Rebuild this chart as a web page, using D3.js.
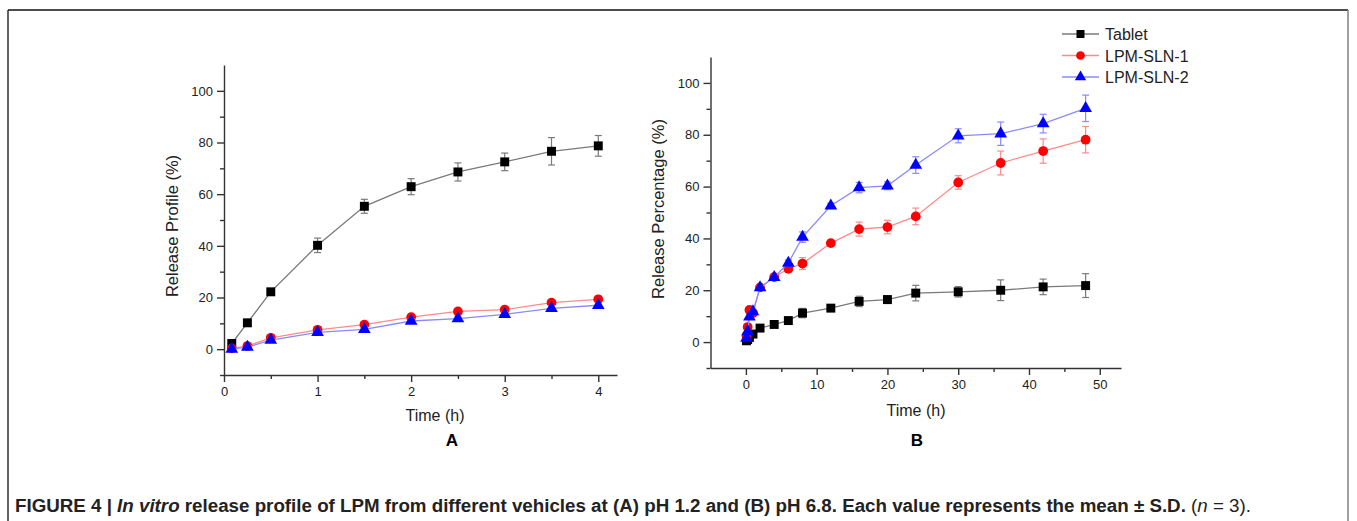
<!DOCTYPE html>
<html lang="en">
<head>
<meta charset="utf-8">
<title>Figure 4 - in vitro release</title>
<script src="https://d3js.org/d3.v7.min.js"></script>
<style>
  body { margin: 0; background: #fff; }
  svg { display: block; font-family: "Liberation Sans", Arial, sans-serif; }
  .axis path, .axis line { stroke: #333; stroke-width: 1.4; }
  .axis text { font-size: 13px; fill: #222; }
</style>
</head>
<body>
<svg id="fig" width="1357" height="521"></svg>
<script>
// ---- data ----
// panel A: pH 1.2
var timeA = [0.083, 0.25, 0.5, 1, 1.5, 2, 2.5, 3, 3.5, 4];
var tabletA = [2.2, 10.2, 22.2, 40.2, 55.3, 62.9, 68.6, 72.5, 76.6, 78.7];
var tabletAErr = [1.0, 0.8, 1.2, 2.8, 2.7, 3.1, 3.5, 3.4, 5.3, 4.0];
var sln1A = [0.3, 1.2, 4.4, 7.5, 9.5, 12.4, 14.6, 15.3, 18.0, 19.3];
var sln1AErr = [0.5, 0.6, 0.8, 0.8, 0.8, 0.9, 0.9, 0.9, 1.0, 1.0];
var sln2A = [0.0, 0.8, 3.5, 6.5, 7.7, 10.9, 11.8, 13.5, 15.8, 17.0];
var sln2AErr = [0.5, 0.6, 0.8, 0.8, 0.8, 0.9, 0.9, 0.9, 1.0, 1.0];

// panel B: pH 6.8
var timeB = [0.083, 0.25, 0.5, 1, 2, 4, 6, 8, 12, 16, 20, 24, 30, 36, 42, 48];
var tabletB = [0.5, 1.0, 1.8, 3.1, 5.4, 6.8, 8.3, 11.2, 13.1, 15.7, 16.4, 18.9, 19.4, 20.0, 21.3, 21.8];
var tabletBErr = [0.3, 0.4, 0.5, 0.6, 0.7, 0.8, 1.0, 1.8, 1.0, 2.0, 1.5, 3.0, 2.0, 4.0, 3.0, 4.6];
var sln1B = [2.4, 5.8, 12.4, 11.2, 21.1, 25.1, 28.3, 30.3, 38.2, 43.6, 44.4, 48.5, 61.6, 69.1, 73.7, 78.1];
var sln1BErr = [0.5, 0.8, 0.8, 0.8, 0.9, 1.0, 1.2, 2.3, 1.0, 2.7, 2.6, 3.2, 2.6, 4.6, 4.7, 5.1];
var sln2B = [1.5, 4.1, 9.7, 11.8, 21.0, 25.0, 30.5, 40.5, 52.6, 59.6, 60.3, 68.3, 79.6, 80.4, 84.3, 90.2];
var sln2BErr = [0.5, 0.6, 0.8, 0.8, 0.9, 1.0, 1.2, 2.0, 1.0, 2.0, 1.5, 3.2, 2.7, 4.5, 3.6, 5.1];

var yTicks = [0, 20, 40, 60, 80, 100];
var xTicksA = [0, 1, 2, 3, 4];
var xTicksB = [0, 10, 20, 30, 40, 50];
var seriesNames = ["Tablet", "LPM-SLN-1", "LPM-SLN-2"];

var styles = {
  "Tablet":    { mark: "#000000", line: "#7a7a7a", shape: d3.symbolSquare,   size: 80 },
  "LPM-SLN-1": { mark: "#ff0000", line: "#ff8a8a", shape: d3.symbolCircle,   size: 75 },
  "LPM-SLN-2": { mark: "#0000ff", line: "#8a8aff", shape: d3.symbolTriangle, size: 70 }
};

var svg = d3.select("#fig");

// frame of the figure box
svg.append("line").attr("x1", 8).attr("x2", 1348).attr("y1", 10).attr("y2", 10)
  .attr("stroke", "#111").attr("stroke-width", 1.6);
svg.append("line").attr("x1", 8).attr("x2", 8).attr("y1", 10).attr("y2", 521)
  .attr("stroke", "#222").attr("stroke-width", 1.4);
svg.append("line").attr("x1", 1348).attr("x2", 1348).attr("y1", 10).attr("y2", 521)
  .attr("stroke", "#888").attr("stroke-width", 1.6);

function panel(opt) {
  var x = d3.scaleLinear().domain(opt.xDomain).range(opt.xRange);
  var y = d3.scaleLinear().domain([-10, 110]).range(opt.yRange);
  var g = svg.append("g");

  // minor ticks
  g.append("g").attr("class", "axis")
    .attr("transform", "translate(0," + opt.yRange[0] + ")")
    .call(d3.axisBottom(x).tickValues(opt.xMinor).tickSize(4).tickFormat(""))
    .select(".domain").remove();
  g.append("g").attr("class", "axis")
    .attr("transform", "translate(" + opt.xRange[0] + ",0)")
    .call(d3.axisLeft(y).tickValues([-10, 10, 30, 50, 70, 90]).tickSize(4).tickFormat(""))
    .select(".domain").remove();

  // major axes
  g.append("g").attr("class", "axis")
    .attr("transform", "translate(0," + opt.yRange[0] + ")")
    .call(d3.axisBottom(x).tickValues(opt.xTicks).tickFormat(d3.format("d"))
      .tickSize(7).tickSizeOuter(0).tickPadding(5));
  g.append("g").attr("class", "axis")
    .attr("transform", "translate(" + opt.xRange[0] + ",0)")
    .call(d3.axisLeft(y).tickValues(yTicks).tickFormat(d3.format("d"))
      .tickSize(7).tickSizeOuter(0).tickPadding(4));

  g.append("text").attr("x", opt.xTitleX).attr("y", opt.xTitleY)
    .attr("text-anchor", "middle").attr("font-size", 16).attr("fill", "#222")
    .text("Time (h)");
  g.append("text")
    .attr("transform", "translate(" + opt.yTitleX + "," + opt.yTitleY + ") rotate(-90)")
    .attr("text-anchor", "middle").attr("font-size", 16.5).attr("fill", "#222")
    .text(opt.yTitle);
  g.append("text").attr("x", opt.labelX).attr("y", 446)
    .attr("text-anchor", "middle").attr("font-size", 17).attr("font-weight", "bold")
    .text(opt.label);

  var line = d3.line().x(function(d) { return x(d.t); }).y(function(d) { return y(d.v); });

  opt.series.forEach(function(s) {
    var st = styles[s.name];
    var pts = opt.time.map(function(t, i) { return { t: t, v: s.values[i], e: s.err[i] }; });
    g.append("path").datum(pts).attr("d", line)
      .attr("fill", "none").attr("stroke", st.line).attr("stroke-width", 1.3);
    var eb = g.append("g").attr("stroke", st.line).attr("stroke-width", 1.2);
    eb.selectAll(".v").data(pts).enter().append("line")
      .attr("x1", function(d) { return x(d.t); }).attr("x2", function(d) { return x(d.t); })
      .attr("y1", function(d) { return y(d.v - d.e); }).attr("y2", function(d) { return y(d.v + d.e); });
    eb.selectAll(".t").data(pts).enter().append("line")
      .attr("x1", function(d) { return x(d.t) - 3.5; }).attr("x2", function(d) { return x(d.t) + 3.5; })
      .attr("y1", function(d) { return y(d.v + d.e); }).attr("y2", function(d) { return y(d.v + d.e); });
    eb.selectAll(".b").data(pts).enter().append("line")
      .attr("x1", function(d) { return x(d.t) - 3.5; }).attr("x2", function(d) { return x(d.t) + 3.5; })
      .attr("y1", function(d) { return y(d.v - d.e); }).attr("y2", function(d) { return y(d.v - d.e); });
    g.selectAll(null).data(pts).enter().append("path")
      .attr("transform", function(d) { return "translate(" + x(d.t) + "," + y(d.v) + ")"; })
      .attr("d", d3.symbol().type(st.shape).size(st.size))
      .attr("fill", st.mark);
  });
}

panel({
  xDomain: [0, 4.2], xRange: [224, 617], yRange: [375, 65],
  xTicks: xTicksA, xMinor: [0.5, 1.5, 2.5, 3.5],
  time: timeA,
  series: [
    { name: "Tablet", values: tabletA, err: tabletAErr },
    { name: "LPM-SLN-1", values: sln1A, err: sln1AErr },
    { name: "LPM-SLN-2", values: sln2A, err: sln2AErr }
  ],
  yTitle: "Release Profile (%)", yTitleX: 178, yTitleY: 226,
  xTitleX: 435, xTitleY: 421, label: "A", labelX: 452
});

panel({
  xDomain: [-5, 53], xRange: [710.5, 1121], yRange: [368, 57],
  xTicks: xTicksB, xMinor: [5, 15, 25, 35, 45],
  time: timeB,
  series: [
    { name: "Tablet", values: tabletB, err: tabletBErr },
    { name: "LPM-SLN-1", values: sln1B, err: sln1BErr },
    { name: "LPM-SLN-2", values: sln2B, err: sln2BErr }
  ],
  yTitle: "Release Percentage (%)", yTitleX: 664, yTitleY: 209,
  xTitleX: 916, xTitleY: 416, label: "B", labelX: 917
});

// legend
var leg = svg.append("g").attr("transform", "translate(1062,34)");
seriesNames.forEach(function(name, i) {
  var st = styles[name];
  var row = leg.append("g").attr("transform", "translate(0," + (i * 21.5) + ")");
  row.append("line").attr("x1", 0).attr("x2", 37).attr("y1", 0).attr("y2", 0)
    .attr("stroke", st.line).attr("stroke-width", 1.3);
  row.append("path").attr("transform", "translate(18.5,0)")
    .attr("d", d3.symbol().type(st.shape).size(st.size * 0.8)).attr("fill", st.mark);
  row.append("text").attr("x", 43).attr("y", 6).attr("font-size", 16).attr("fill", "#222")
    .text(name);
});

// caption
var cap = svg.append("text").attr("x", 15).attr("y", 512)
  .attr("font-size", 17.5).attr("fill", "#222")
  .attr("textLength", 1236).attr("lengthAdjust", "spacingAndGlyphs");
cap.append("tspan").attr("font-weight", "bold").text("FIGURE 4 | ");
cap.append("tspan").attr("font-weight", "bold").attr("font-style", "italic").text("In vitro");
cap.append("tspan").attr("font-weight", "bold")
  .text(" release profile of LPM from different vehicles at (A) pH 1.2 and (B) pH 6.8. Each value represents the mean \u00b1 S.D. ");
cap.append("tspan").text("(");
cap.append("tspan").attr("font-style", "italic").text("n");
cap.append("tspan").text(" = 3).");
</script>
</body>
</html>
